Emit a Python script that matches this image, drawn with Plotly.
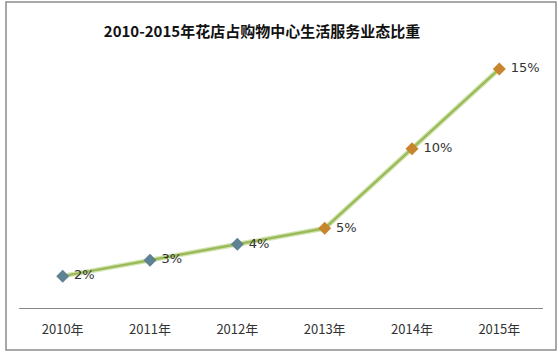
import plotly.graph_objects as go

years = ["2010年", "2011年", "2012年", "2013年", "2014年", "2015年"]
share = [2, 3, 4, 5, 10, 15]
labels = ["2%", "3%", "4%", "5%", "10%", "15%"]
marker_colors = ["#5E8193", "#5E8193", "#5E8193", "#C7862E", "#C7862E", "#C7862E"]

W, H = 560, 360
ml, mr, mt, mb = 19, 17, 53, 52
pw, ph = W - ml - mr, H - mt - mb

def px2x(p):
    return (p - ml) / pw

def py2y(p):
    return (H - mb - p) / ph

fig = go.Figure()
# halo line
fig.add_trace(go.Scatter(x=years, y=share, mode="lines",
                         line=dict(color="#D6E6B8", width=5), hoverinfo="skip", showlegend=False))
fig.add_trace(go.Scatter(
    x=years, y=share, mode="lines+markers+text",
    line=dict(color="#9BBB59", width=2.5),
    marker=dict(symbol="diamond", size=10, color=marker_colors, line=dict(width=0)),
    text=["\u00a0" + t for t in labels], textposition="middle right",
    textfont=dict(family="DejaVu Sans, Noto Sans CJK SC", size=13, color="#333333"),
    showlegend=False,
))

fig.update_layout(
    width=W, height=H,
    margin=dict(l=ml, r=mr, t=mt, b=mb),
    paper_bgcolor="white", plot_bgcolor="white",
    title=dict(text="<b>2010-2015年花店占购物中心生活服务业态比重</b>",
               xref="container", x=262 / W, xanchor="center", y=1 - 32 / H, yanchor="middle",
               font=dict(family="Noto Sans CJK SC", size=15, color="#111111")),
    xaxis=dict(range=[-0.5, 5.5], showgrid=False, showline=True, linecolor="#888888",
               linewidth=1, ticks="", ticklabelstandoff=9,
               tickfont=dict(family="Noto Sans CJK SC, DejaVu Sans", size=13, color="#333333"),
               fixedrange=True),
    yaxis=dict(range=[0, 16], visible=False, showgrid=False, zeroline=False, fixedrange=True),
    shapes=[dict(type="rect", xref="paper", yref="paper",
                 x0=px2x(6), x1=px2x(556), y0=py2y(350), y1=py2y(2),
                 line=dict(color="#8C8C8C", width=1.5), fillcolor="rgba(0,0,0,0)", layer="below")],
)

fig.write_html("out.html", config={"displayModeBar": False},
               post_script="document.body.style.margin='0';document.body.style.overflow='hidden';")
